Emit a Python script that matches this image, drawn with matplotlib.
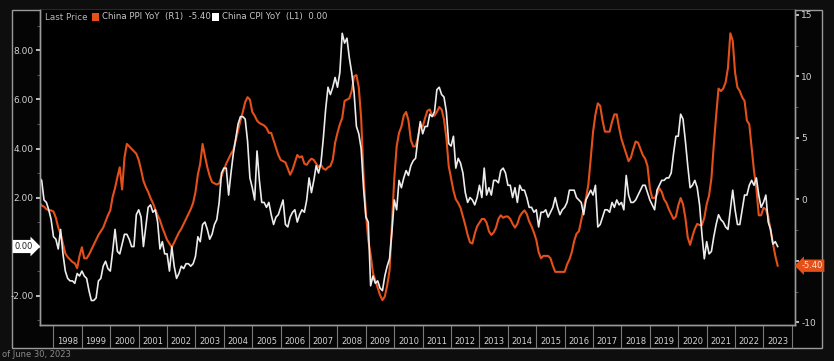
import numpy as np
import matplotlib
matplotlib.use("Agg")
import matplotlib.pyplot as plt
from matplotlib.patches import Rectangle

# monthly observations, first one = end of June 1997
start_year = 1997.5

cpi_yoy = [
    2.8, 2.7, 1.9, 1.8, 1.5, 1.1, 0.4,                                # 1997 Jun-Dec
    0.3, -0.1, 0.7, -0.3, -1.0, -1.3, -1.4, -1.4, -1.5, -1.1, -1.2, -1.0,  # 1998
    -1.2, -1.3, -1.8, -2.2, -2.2, -2.1, -1.4, -1.3, -0.8, -0.6, -0.9, -1.0,  # 1999
    -0.2, 0.7, -0.2, -0.3, 0.1, 0.5, 0.5, 0.3, 0.0, 0.0, 1.3, 1.5,     # 2000
    1.2, 0.0, 0.8, 1.6, 1.7, 1.4, 1.5, 1.0, -0.1, 0.2, -0.3, -0.3,     # 2001
    -1.0, 0.0, -0.8, -1.3, -1.1, -0.8, -0.9, -0.7, -0.7, -0.8, -0.7, -0.4,  # 2002
    0.4, 0.2, 0.9, 1.0, 0.7, 0.3, 0.5, 0.9, 1.1, 1.8, 3.0, 3.2,        # 2003
    3.2, 2.1, 3.0, 3.8, 4.4, 5.0, 5.3, 5.3, 5.2, 4.3, 2.8, 2.4,        # 2004
    1.9, 3.9, 2.7, 1.8, 1.8, 1.6, 1.8, 1.3, 0.9, 1.2, 1.3, 1.6,        # 2005
    1.9, 0.9, 0.8, 1.2, 1.4, 1.5, 1.0, 1.3, 1.5, 1.4, 1.9, 2.8,        # 2006
    2.2, 2.7, 3.3, 3.0, 3.4, 4.4, 5.6, 6.5, 6.2, 6.5, 6.9, 6.5,        # 2007
    7.1, 8.7, 8.3, 8.5, 7.7, 7.1, 6.3, 4.9, 4.6, 4.0, 2.4, 1.2,        # 2008
    1.0, -1.6, -1.2, -1.5, -1.4, -1.7, -1.8, -1.2, -0.8, -0.5, 0.6, 1.9,  # 2009
    1.5, 2.7, 2.4, 2.8, 3.1, 2.9, 3.3, 3.5, 3.6, 4.4, 5.1, 4.6,        # 2010
    4.9, 4.9, 5.4, 5.3, 5.5, 6.4, 6.5, 6.2, 6.1, 5.5, 4.2, 4.1,        # 2011
    4.5, 3.2, 3.6, 3.4, 3.0, 2.2, 1.8, 2.0, 1.9, 1.7, 2.0, 2.5,        # 2012
    2.0, 3.2, 2.1, 2.4, 2.1, 2.7, 2.7, 2.6, 3.1, 3.2, 3.0, 2.5,        # 2013
    2.5, 2.0, 2.4, 1.8, 2.5, 2.3, 2.3, 2.0, 1.6, 1.6, 1.4, 1.5,        # 2014
    0.8, 1.4, 1.4, 1.5, 1.2, 1.4, 1.6, 2.0, 1.6, 1.3, 1.5, 1.6,        # 2015
    1.8, 2.3, 2.3, 2.3, 2.0, 1.9, 1.8, 1.3, 1.9, 2.1, 2.3, 2.1,        # 2016
    2.5, 0.8, 0.9, 1.2, 1.5, 1.5, 1.4, 1.8, 1.6, 1.9, 1.7, 1.8,        # 2017
    1.5, 2.9, 2.1, 1.8, 1.8, 1.9, 2.1, 2.3, 2.5, 2.5, 2.2, 1.9,        # 2018
    1.7, 1.5, 2.3, 2.5, 2.7, 2.7, 2.8, 2.8, 3.0, 3.8, 4.5, 4.5,        # 2019
    5.4, 5.2, 4.3, 3.3, 2.4, 2.5, 2.7, 2.4, 1.7, 0.5, -0.5, 0.2,       # 2020
    -0.3, -0.2, 0.4, 0.9, 1.3, 1.1, 1.0, 0.8, 0.7, 1.5, 2.3, 1.5,      # 2021
    0.9, 0.9, 1.5, 2.1, 2.1, 2.5, 2.7, 2.5, 2.8, 2.1, 1.6, 1.8,        # 2022
    2.1, 1.0, 0.7, 0.1, 0.2, 0.0,                                      # 2023 Jan-Jun
]

ppi_yoy = [
    -0.3, -0.5, -0.6, -0.8, -0.9, -0.9, -1.0,                          # 1997 Jun-Dec
    -1.5, -2.3, -2.8, -3.6, -4.4, -4.7, -4.9, -5.1, -5.2, -5.6, -4.6, -3.9,  # 1998
    -4.8, -4.8, -4.5, -4.1, -3.7, -3.3, -2.9, -2.6, -2.3, -1.8, -1.3, -0.9,  # 1999
    0.2, 0.9, 1.8, 2.6, 0.8, 3.4, 4.5, 4.3, 4.1, 3.9, 3.7, 3.2,        # 2000
    2.4, 1.5, 1.0, 0.6, 0.1, -0.3, -0.8, -1.3, -1.7, -2.3, -2.8, -3.3,  # 2001
    -3.6, -3.9, -3.5, -3.1, -2.7, -2.4, -2.0, -1.6, -1.2, -0.8, -0.3, 0.6,  # 2002
    2.0, 2.9, 4.5, 3.5, 2.6, 1.9, 1.4, 1.3, 1.2, 1.3, 1.9, 2.4,        # 2003
    2.9, 3.3, 3.7, 4.0, 4.8, 5.6, 6.4, 7.1, 7.9, 8.3, 8.1, 7.1,        # 2004
    6.8, 6.4, 6.2, 6.1, 6.0, 5.8, 5.4, 5.4, 4.8, 4.2, 3.6, 3.2,        # 2005
    3.1, 3.0, 2.5, 2.0, 2.4, 3.0, 3.6, 3.4, 3.5, 2.9, 2.8, 3.1,        # 2006
    3.3, 3.2, 2.9, 2.6, 2.8, 2.5, 2.4, 2.6, 2.7, 3.2, 4.6, 5.4,        # 2007
    6.1, 6.6, 8.0, 8.1, 8.2, 8.8, 10.0, 10.1, 9.1, 6.6, 2.0, -1.1,     # 2008
    -3.3, -4.5, -6.0, -6.6, -7.2, -7.8, -8.2, -7.9, -7.0, -5.8, -2.1, 1.7,  # 2009
    4.3, 5.4, 5.9, 6.8, 7.1, 6.4, 4.8, 4.3, 4.3, 5.0, 6.1, 5.9,        # 2010
    6.6, 7.2, 7.3, 6.8, 6.8, 7.1, 7.5, 7.3, 6.5, 5.0, 2.7, 1.7,        # 2011
    0.7, 0.0, -0.3, -0.7, -1.4, -2.1, -2.9, -3.5, -3.6, -2.8, -2.2, -1.9,  # 2012
    -1.6, -1.6, -1.9, -2.6, -2.9, -2.7, -2.3, -1.6, -1.3, -1.5, -1.4, -1.4,  # 2013
    -1.6, -2.0, -2.3, -2.0, -1.4, -1.1, -0.9, -1.2, -1.8, -2.2, -2.7, -3.3,  # 2014
    -4.3, -4.8, -4.6, -4.6, -4.6, -4.8, -5.4, -5.9, -5.9, -5.9, -5.9, -5.9,  # 2015
    -5.3, -4.9, -4.3, -3.4, -2.8, -2.6, -1.7, -0.8, 0.1, 1.2, 3.3, 5.5,  # 2016
    6.9, 7.8, 7.6, 6.4, 5.5, 5.5, 5.5, 6.3, 6.9, 6.9, 5.8, 4.9,        # 2017
    4.3, 3.7, 3.1, 3.4, 4.1, 4.7, 4.6, 4.1, 3.6, 3.3, 2.7, 0.9,        # 2018
    0.1, 0.1, 0.4, 0.9, 0.6, 0.0, -0.3, -0.8, -1.2, -1.6, -1.4, -0.5,  # 2019
    0.1, -0.4, -1.5, -3.1, -3.7, -3.0, -2.4, -2.0, -2.1, -2.1, -1.5, -0.4,  # 2020
    0.3, 1.7, 4.4, 6.8, 9.0, 8.8, 9.0, 9.5, 10.7, 13.5, 12.9, 10.3,    # 2021
    9.1, 8.8, 8.3, 8.0, 6.4, 6.1, 4.2, 2.3, 0.9, -1.3, -1.3, -0.7,     # 2022
    -0.8, -1.4, -2.5, -3.6, -4.6, -5.4,                                # 2023 Jan-Jun
]

year_labels = list(range(1998, 2024))
left_ticks = [-2, 0, 2, 4, 6, 8]
right_ticks = [-10, -5, 0, 5, 10, 15]

W, H = 834, 361
GRID = "#9a9a9a"
TXT = "#d2d2d2"
ORANGE = "#e4501a"
WHITE = "#ececec"

plt.rcParams["font.family"] = ["Liberation Sans Narrow", "DejaVu Sans"]

fig = plt.figure(figsize=(W / 100, H / 100), dpi=100, facecolor="#0e0e0e")

# outer frame (kept behind the axes)
fig.patches.append(Rectangle((12 / W, 1 - 348 / H), 810 / W, 338 / H,
                             transform=fig.transFigure, fc="#050505",
                             ec=GRID, lw=1.0, zorder=-5))

ax = fig.add_axes([40 / W, 1 - 325 / H, 755 / W, 315 / H])
ax2 = ax.twinx()
ax.set_zorder(ax2.get_zorder() + 1)
ax.patch.set_visible(False)
ax2.patch.set_visible(True)
ax2.patch.set_facecolor("black")

t = start_year + np.arange(len(cpi_yoy)) / 12.0
ax2.plot(t, ppi_yoy, color=ORANGE, lw=1.5, solid_joinstyle="round")
ax.plot(t, cpi_yoy, color=WHITE, lw=1.2, solid_joinstyle="round")

ax.set_xlim(1997.525, 2024.11)
ax.set_ylim(-3.2, 9.65)
ax2.set_ylim(-10.22, 15.39)

for a in (ax, ax2):
    for s in a.spines.values():
        s.set_color(GRID)
        s.set_linewidth(1.0)
    a.spines["top"].set_visible(False)

# year separators + labels in the band below the plot
ax.set_xticks([y for y in year_labels] + [2024])
ax.set_xticklabels([])
ax.set_xticks([y + 0.5 for y in year_labels], minor=True)
ax.set_xticklabels([str(y) for y in year_labels], minor=True)
ax.tick_params(axis="x", which="major", length=16.5, width=0.8, color="#7a7a7a", direction="out")
ax.tick_params(axis="x", which="minor", length=0, pad=9, labelsize=6, labelcolor=TXT)

# left axis (CPI)
ax.set_yticks(left_ticks)
ax.set_yticklabels(["" if v == 0 else "%.2f" % v for v in left_ticks])
ax.set_yticks(np.arange(-3, 10, 1), minor=True)
ax.tick_params(axis="y", which="major", length=3, width=1.2, color="#dddddd", pad=1.5,
               labelsize=6.5, labelcolor=TXT)
ax.tick_params(axis="y", which="minor", length=2, width=0.6, color="#666666")

# right axis (PPI)
ax2.set_yticks(right_ticks)
ax2.set_yticklabels(["" if v == -5 else str(v) for v in right_ticks])
ax2.set_yticks(np.arange(-10, 15.1, 2.5), minor=True)
ax2.tick_params(axis="y", which="major", length=3, width=1.2, color="#dddddd", pad=1.5,
                labelsize=6.5, labelcolor=TXT)
ax2.tick_params(axis="y", which="minor", length=2, width=0.6, color="#666666")

# last value tags
fig.text(24 / W, 1 - 246.5 / H, "%.2f" % cpi_yoy[-1], ha="center", va="center",
         fontsize=6, color="#222222",
         bbox=dict(boxstyle="rarrow,pad=0.25", fc="white", ec="none"))
fig.text(812 / W, 1 - 265.7 / H, "%.2f" % ppi_yoy[-1], ha="center", va="center",
         fontsize=6, color="#ffe6d8",
         bbox=dict(boxstyle="larrow,pad=0.2", fc=ORANGE, ec="none"))

# legend line at the top
ly = 1 - 17 / H
fig.text(45 / W, ly, "Last Price", fontsize=6.3, color="#b8b8b8", va="center")
fig.patches.append(Rectangle((92 / W, 1 - 21 / H), 7 / W, 8 / H,
                             transform=fig.transFigure, fc=ORANGE, ec="none"))
fig.text(102 / W, ly, "China PPI YoY  (R1)  %.2f" % ppi_yoy[-1], fontsize=6.2,
         color="#c8c8c8", va="center")
fig.patches.append(Rectangle((212 / W, 1 - 21 / H), 7 / W, 8 / H,
                             transform=fig.transFigure, fc="white", ec="none"))
fig.text(222 / W, ly, "China CPI YoY  (L1)  %.2f" % cpi_yoy[-1], fontsize=6.2,
         color="#c8c8c8", va="center")

fig.text(2 / W, 1 - 350 / H, "of June 30, 2023", fontsize=6, color="#8a8a8a",
         va="top", ha="left")

fig.savefig("out.png", dpi=100, facecolor=fig.get_facecolor())
